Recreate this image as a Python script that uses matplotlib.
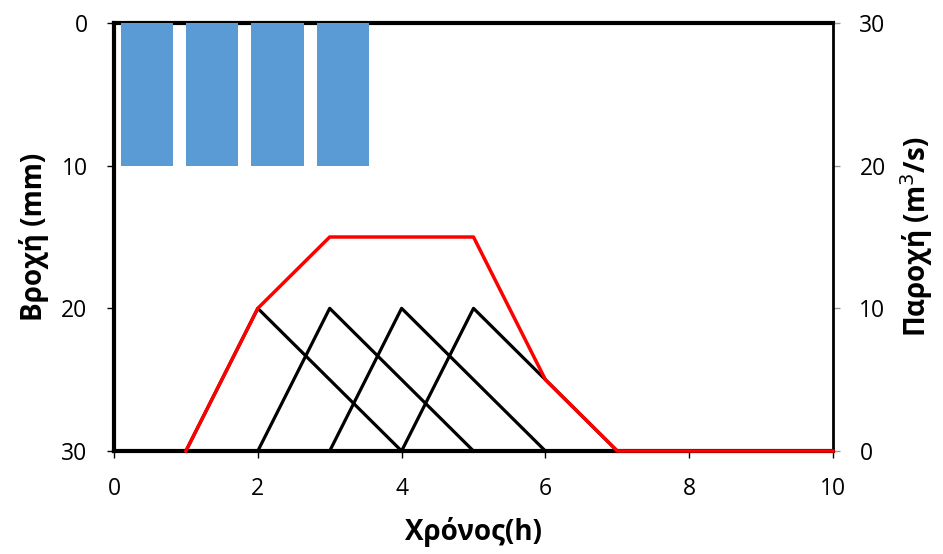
import numpy as np
from matplotlib import pyplot as plt

plt.rcParams['font.family'] = ['Open Sans', 'DejaVu Sans']

# Βροχή ανά διάστημα (mm), 11 κατηγορίες όπως στο Excel
rain_mm = [10, 10, 10, 10, 0, 0, 0, 0, 0, 0, 0]

# Μοναδιαία υδρογραφήματα (τριγωνικά): αρχή, κορυφή, τέλος
uh_start = [1, 2, 3, 4]
uh_peak_dt = 1
uh_base_dt = 3
uh_peak_q = 10

# Συνολικό υδρογράφημα
t_total = [1, 2, 3, 4, 5, 6, 7, 10]
q_total = [0, 10, 15, 15, 15, 5, 0, 0]

fig = plt.figure(figsize=(9.43, 5.54), dpi=100)
ax = fig.add_axes([114 / 943, 1 - 451 / 554, (833 - 114) / 943, (451 - 23) / 554])

# άξονας βροχής (αριστερά, ανεστραμμένος)
ax.set_xlim(0, 10)
ax.set_ylim(30, 0)
ax.set_yticks([0, 10, 20, 30])
ax.set_xticks([0, 2, 4, 6, 8, 10])
ax.tick_params(labelsize=16.5, length=5, width=1, direction='out', pad=14)
for s in ['left', 'top', 'bottom']:
    ax.spines[s].set_linewidth(3)
ax.spines['right'].set_visible(False)
ax.set_xlabel("Χρόνος(h)", fontsize=20, fontweight='bold', labelpad=11)
ax.set_ylabel("Βροχή (mm)", fontsize=20, fontweight='bold', labelpad=9)

# ραβδόγραμμα βροχής σε δικό του άξονα κατηγοριών
axb = ax.twiny()
axb.set_xlim(0, len(rain_mm))
axb.set_ylim(30, 0)
axb.bar(np.arange(len(rain_mm)) + 0.5, rain_mm, width=0.8, color='#5b9bd5')
axb.axis('off')

# άξονας παροχής (δεξιά)
axq = ax.twinx()
axq.set_ylim(0, 30)
axq.set_yticks([0, 10, 20, 30])
axq.tick_params(labelsize=16.5, length=5, width=1, direction='out', color='#999999', pad=14)
for s in ['left', 'top', 'bottom']:
    axq.spines[s].set_visible(False)
axq.spines['right'].set_linewidth(2)
axq.set_ylabel("Παροχή (m$^3$/s)", fontsize=20, fontweight='bold', labelpad=9)

for t0 in uh_start:
    axq.plot([t0, t0 + uh_peak_dt, t0 + uh_base_dt], [0, uh_peak_q, 0],
             color='black', lw=2.3, clip_on=False)
axq.plot(t_total, q_total, color='red', lw=2.5, clip_on=False, zorder=5)
axq.set_xlim(0, 10)

fig.savefig("out.png", dpi=100)
